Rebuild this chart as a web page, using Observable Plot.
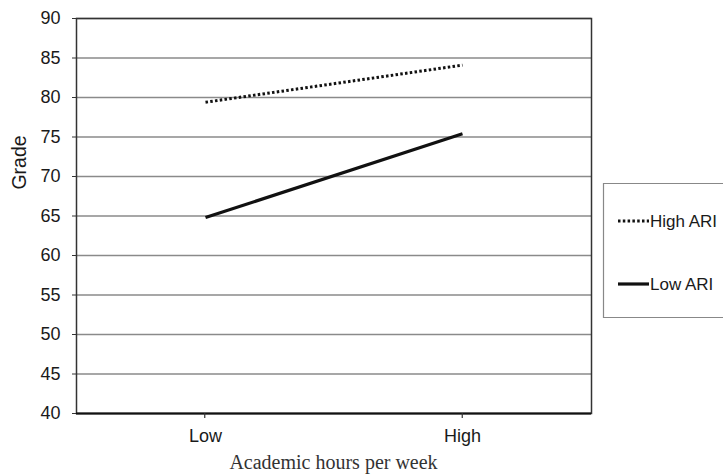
<!DOCTYPE html>
<html>
<head>
<meta charset="utf-8">
<script src="https://cdn.jsdelivr.net/npm/d3@7"></script>
<script src="https://cdn.jsdelivr.net/npm/@observablehq/plot@0.6"></script>
<style>
  html, body { margin: 0; padding: 0; background: #fff; overflow: hidden; }
</style>
</head>
<body>
<div id="chart"></div>
<script>
const categories = ["Low", "High"];
const seriesNames = ["High ARI", "Low ARI"];
const highARI = [79.4, 84.1];
const lowARI = [64.8, 75.4];
const yTicks = [40, 45, 50, 55, 60, 65, 70, 75, 80, 85, 90];
const xTitle = "Academic hours per week";
const yTitle = "Grade";

const data = [];
categories.forEach((c, i) => {
  data.push({hours: c, grade: highARI[i], group: seriesNames[0]});
  data.push({hours: c, grade: lowARI[i], group: seriesNames[1]});
});

const sans = "'Liberation Sans', Arial, sans-serif";
const serif = "'Liberation Serif', 'Times New Roman', serif";
const dots = "2.5 2.3";

const chart = Plot.plot({
  width: 723,
  height: 474,
  marginTop: 18,
  marginLeft: 76,
  marginRight: 132,
  marginBottom: 61,
  style: {fontFamily: sans, color: "#1a1a1a", background: "#fff"},
  x: {type: "point", domain: categories, padding: 0.5},
  y: {domain: [40, 90]},
  marks: [
    Plot.ruleY(yTicks, {stroke: "#8a8a8a", strokeWidth: 1.3}),
    Plot.frame({stroke: "#333", strokeWidth: 1.5}),
    Plot.ruleY([40], {stroke: "#111", strokeWidth: 2}),
    Plot.axisY({ticks: yTicks, tickSize: 4, tickPadding: 12, fontSize: 18, label: null, stroke: "#333"}),
    Plot.axisX({tickSize: 0, tickPadding: 16, fontSize: 18, label: null}),
    Plot.line(data.filter(d => d.group === seriesNames[0]), {
      x: "hours", y: "grade", stroke: "#111", strokeWidth: 3,
      strokeDasharray: dots, strokeLinecap: "butt"
    }),
    Plot.line(data.filter(d => d.group === seriesNames[1]), {
      x: "hours", y: "grade", stroke: "#111", strokeWidth: 3.2, strokeLinecap: "butt"
    })
  ]
});

const svg = d3.select(chart);
const xr = chart.scale("x").range;
const yr = chart.scale("y").range;
const step = (xr[1] - xr[0]) / categories.length;
const leftX = xr[0] - step / 2, rightX = xr[1] + step / 2;
const bottomY = yr[0], topY = yr[1];

// category-axis tick marks between categories (Excel style)
for (let i = 0; i <= categories.length; i++) {
  const xp = leftX + i * step;
  svg.append("line").attr("x1", xp).attr("x2", xp).attr("y1", bottomY).attr("y2", bottomY + 5)
    .attr("stroke", "#333").attr("stroke-width", 1.2);
}

// axis titles
svg.append("text")
  .attr("transform", `translate(19, ${(topY + bottomY) / 2 - 53}) rotate(-90)`)
  .attr("text-anchor", "middle").attr("dy", "0.35em")
  .attr("font-family", sans).attr("font-size", 19.5).attr("fill", "#1a1a1a")
  .text(yTitle);
svg.append("text")
  .attr("x", (leftX + rightX) / 2).attr("y", bottomY + 56)
  .attr("text-anchor", "middle")
  .attr("font-family", serif).attr("font-size", 20).attr("fill", "#333")
  .text(xTitle);

// legend box (right side runs off the picture)
const lg = svg.append("g").attr("font-family", sans).attr("font-size", 17).attr("fill", "#1a1a1a");
lg.append("rect").attr("x", 603.5).attr("y", 183.5).attr("width", 150).attr("height", 134)
  .attr("fill", "#fff").attr("stroke", "none");
lg.append("path").attr("d", "M760,183.5H603.5V317.5H760")
  .attr("fill", "none").attr("stroke", "#888").attr("stroke-width", 1.2);
const items = [
  {name: seriesNames[0], dash: dots, w: 3, y: 221},
  {name: seriesNames[1], dash: null, w: 3.2, y: 284}
];
items.forEach(it => {
  const l = lg.append("line").attr("x1", 618).attr("x2", 649).attr("y1", it.y).attr("y2", it.y)
    .attr("stroke", "#111").attr("stroke-width", it.w).attr("stroke-linecap", "butt");
  if (it.dash) l.attr("stroke-dasharray", it.dash);
  lg.append("text").attr("x", 650).attr("y", it.y).attr("dy", "0.35em")
    .attr("text-anchor", "start").text(it.name);
});

document.getElementById("chart").appendChild(chart);
</script>
</body>
</html>
